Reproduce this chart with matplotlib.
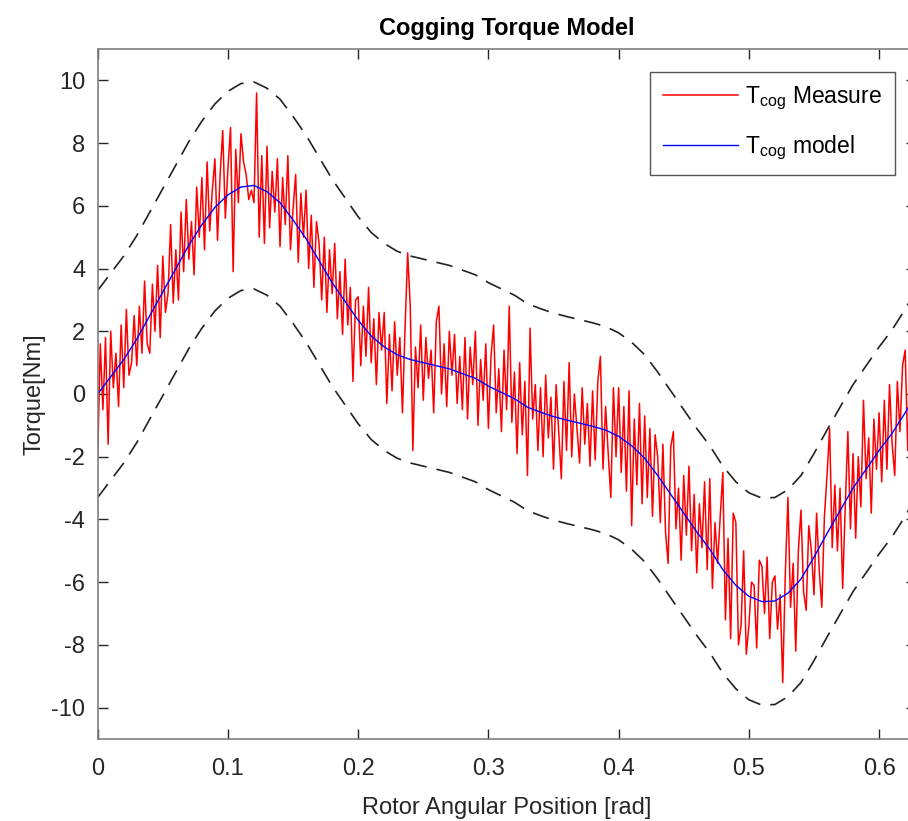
import numpy as np
import matplotlib
matplotlib.use("Agg")
import matplotlib.pyplot as plt

plt.rcParams["font.family"] = ["Liberation Sans", "DejaVu Sans"]
plt.rcParams["mathtext.fontset"] = "custom"
plt.rcParams["mathtext.rm"] = "Liberation Sans"
plt.rcParams["mathtext.it"] = "Liberation Sans"
plt.rcParams["axes.unicode_minus"] = False

# smooth cogging torque model, read every 0.01 rad
model_x = [0.00, 0.01, 0.02, 0.03, 0.04, 0.05, 0.06, 0.07, 0.08, 0.09,
           0.10, 0.11, 0.12, 0.13, 0.14, 0.15, 0.16, 0.17, 0.18, 0.19,
           0.20, 0.21, 0.22, 0.23, 0.24, 0.25, 0.26, 0.27, 0.28, 0.29,
           0.30, 0.31, 0.32, 0.33, 0.34, 0.35, 0.36, 0.37, 0.38, 0.39,
           0.40, 0.41, 0.42, 0.43, 0.44, 0.45, 0.46, 0.47, 0.48, 0.49,
           0.50, 0.51, 0.52, 0.53, 0.54, 0.55, 0.56, 0.57, 0.58, 0.59,
           0.60, 0.61, 0.62, 0.628]
model_t = [0.0, 0.55, 1.1, 1.75, 2.5, 3.25, 4.0, 4.75, 5.4, 5.95,
           6.35, 6.6, 6.65, 6.45, 6.1, 5.55, 4.95, 4.25, 3.55, 2.95,
           2.35, 1.85, 1.5, 1.25, 1.1, 1.0, 0.9, 0.8, 0.65, 0.5,
           0.25, 0.05, -0.15, -0.42, -0.58, -0.72, -0.83, -0.93, -1.03, -1.15,
           -1.35, -1.65, -2.05, -2.6, -3.2, -3.8, -4.4, -4.95, -5.6, -6.1,
           -6.45, -6.62, -6.6, -6.35, -5.9, -5.2, -4.45, -3.72, -3.0, -2.4,
           -1.8, -1.25, -0.6, 0.0]
band = 3.3  # half width of the dashed envelope

# measured torque, one sample every 0.002 rad
meas_step = 0.002
meas_t = [
    -2.0, 1.6, -0.5, 1.8, -1.6, 2.0, 0.2, 1.3, -0.4, 2.2,
    0.2, 2.7, 0.6, 1.0, 2.5, 0.9, 2.8, 1.3, 3.6, 1.6,
    1.3, 3.5, 2.0, 4.1, 1.8, 4.4, 2.6, 3.2, 5.4, 2.9,
    4.6, 3.0, 5.8, 3.9, 6.2, 4.3, 5.5, 3.8, 6.6, 5.0,
    6.9, 4.6, 7.4, 5.2, 6.5, 7.5, 4.9, 7.0, 8.4, 5.6,
    7.2, 8.5, 3.9, 7.8, 6.1, 8.3, 7.4, 7.0, 6.2, 6.5,
    6.1, 9.6, 5.0, 7.6, 4.8, 7.9, 5.3, 7.1, 5.8, 7.5,
    4.7, 6.9, 5.4, 7.6, 4.6, 5.9, 7.0, 4.2, 6.4, 5.0,
    6.5, 4.0, 5.7, 3.4, 5.5, 4.8, 3.0, 5.0, 2.6, 4.6,
    3.2, 4.8, 2.4, 3.9, 1.9, 4.3, 2.2, 3.4, 0.4, 3.0,
    3.1, 0.9, 2.8, 1.2, 3.4, 1.0, 2.4, 0.3, 2.6, 1.4,
    2.6, -0.3, 1.9, 0.1, 2.3, 0.6, 1.8, -0.6, 2.1, 4.5,
    2.8, -1.8, 1.5, 0.2, 2.2, -0.2, 1.8, 0.5, 1.4, -0.6,
    2.3, 2.8, 0.0, 1.6, -0.4, 2.0, 0.6, 1.9, -0.3, 1.2,
    -0.5, 1.8, -0.8, 1.5, 0.3, 2.0, -1.0, 1.1, -0.2, 1.6,
    -1.1, 1.2, 2.2, -0.6, 0.8, -1.2, 1.4, -0.5, 2.8, -0.9,
    0.7, -1.9, 1.0, -1.3, 0.4, -2.6, 2.1, -0.8, 0.3, -1.8,
    0.2, -2.0, 0.6, -1.4, -0.1, -2.4, 0.3, -1.2, -2.7, 0.4,
    -1.8, 1.0, -2.0, 0.0, -1.1, -2.2, 0.2, -1.6, -0.3, -2.3,
    0.1, -2.1, 0.4, 1.2, -2.4, -0.4, -1.9, -3.3, 0.2, -2.0,
    0.2, -2.5, -0.4, -3.1, 0.1, -4.2, -0.8, -2.9, -0.3, -3.5,
    -0.7, -3.3, -1.1, -3.9, -1.3, -2.0, -4.1, -1.6, -4.4, -5.4,
    -1.7, -1.2, -4.3, -3.0, -5.3, -2.6, -4.5, -2.3, -5.0, -3.2,
    -5.7, -3.5, -4.9, -2.8, -5.6, -2.7, -6.2, -4.1, -5.4, -3.9,
    -2.5, -7.2, -4.6, -7.8, -3.8, -4.1, -8.0, -7.4, -5.0, -8.3,
    -7.4, -6.0, -6.1, -8.1, -5.3, -5.5, -7.0, -5.2, -7.8, -6.0,
    -5.8, -7.5, -6.4, -9.2, -5.7, -3.3, -6.8, -5.4, -8.2, -5.0,
    -3.7, -6.3, -6.9, -4.2, -5.0, -6.4, -3.8, -5.6, -6.8, -3.9,
    -2.6, -1.1, -4.9, -2.9, -5.0, -3.0, -6.2, -3.6, -1.2, -4.3,
    -1.9, -4.6, -2.0, -3.6, -0.2, -2.7, -1.4, -3.8, -0.8, -2.4,
    -0.6, -2.8, -0.2, -2.4, 0.3, -1.6, -2.6, 0.4, -1.2, 0.9,
    1.4, -1.8, 0.8, -0.9, 0.5,
]
meas_x = np.arange(len(meas_t)) * meas_step

x_ticks = [0, 0.1, 0.2, 0.3, 0.4, 0.5, 0.6]
x_labels = ["0", "0.1", "0.2", "0.3", "0.4", "0.5", "0.6"]
y_ticks = [-10, -8, -6, -4, -2, 0, 2, 4, 6, 8, 10]

fig = plt.figure(figsize=(9.08, 8.21), dpi=100)
ax = fig.add_axes([0.1076, 0.0999, 0.9012, 0.8404])

mx = np.array(model_x)
mt = np.array(model_t)
ax.plot(meas_x, meas_t, color="#ff0000", lw=1.1, label=r"$\mathrm{T_{cog}}$ Measure")
ax.plot(mx, mt, color="#0000ff", lw=1.0, label=r"$\mathrm{T_{cog}}$ model")
ax.plot(mx, mt + band, color="#222222", lw=1.2, ls=(0, (10, 6)))
ax.plot(mx, mt - band, color="#222222", lw=1.2, ls=(0, (10, 6)))

ax.set_xlim(0, 2 * np.pi / 10)
ax.set_ylim(-11, 11)
ax.set_xticks(x_ticks, x_labels)
ax.set_yticks(y_ticks)
ax.tick_params(direction="in", length=7, width=1, colors="#262626",
               labelsize=17, top=True, right=True)
ax.tick_params(axis="x", pad=14)
ax.tick_params(axis="y", pad=9)
for sp in ax.spines.values():
    sp.set_color("#7f7f7f")
    sp.set_linewidth(1.2)

ax.set_title("Cogging Torque Model", fontsize=17, fontweight="bold", pad=10)
ax.set_xlabel("Rotor Angular Position [rad]", fontsize=17, color="#262626", labelpad=12)
ax.set_ylabel("Torque[Nm]", fontsize=17, color="#262626", labelpad=4)

leg = ax.legend(loc="upper right", bbox_to_anchor=(0.974, 0.967), borderaxespad=0,
                fontsize=16.5, fancybox=False, framealpha=1, handlelength=3.3,
                handletextpad=0.3, edgecolor="#555555", borderpad=0.55,
                labelspacing=0.95)
leg.get_frame().set_linewidth(1.0)

fig.savefig("out.png", dpi=100)
